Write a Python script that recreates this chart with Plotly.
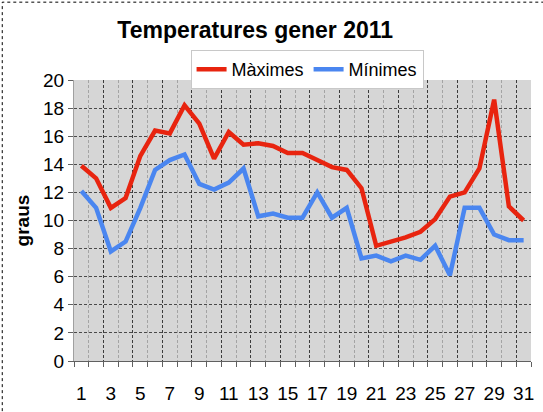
import plotly.graph_objects as go

# dies del mes
dies = list(range(1, 32))
# temperatures maximes i minimes (graus)
maximes = [13.9, 13.0, 10.9, 11.6, 14.6, 16.4, 16.2, 18.2, 16.9, 14.4,
           16.3, 15.4, 15.5, 15.3, 14.8, 14.8, 14.3, 13.8, 13.6, 12.3,
           8.2, 8.5, 8.8, 9.2, 10.1, 11.7, 12.0, 13.7, 18.6, 11.0, 10.0]
minimes = [12.1, 10.9, 7.8, 8.5, 10.9, 13.6, 14.3, 14.7, 12.6, 12.2,
           12.7, 13.7, 10.3, 10.5, 10.2, 10.2, 12.0, 10.2, 10.9, 7.3,
           7.5, 7.1, 7.5, 7.2, 8.2, 6.1, 10.9, 10.9, 9.0, 8.6, 8.6]
etiquetes_x = list(range(1, 32, 2))

fig = go.Figure()
fig.add_trace(go.Scatter(x=dies, y=maximes, mode='lines', name='Màximes',
                         line=dict(color='#e8240f', width=4.5)))
fig.add_trace(go.Scatter(x=dies, y=minimes, mode='lines', name='Mínimes',
                         line=dict(color='#4a86f0', width=4.5)))
# eix auxiliar per les linies de graella principals (cada 2 dies)
fig.add_trace(go.Scatter(x=[0.5], y=[None], xaxis='x2', showlegend=False,
                         hoverinfo='skip'))

fig.update_layout(
    width=543, height=412,
    margin=dict(l=74, r=12, t=80, b=51),
    paper_bgcolor='white',
    plot_bgcolor='#d6d6d6',
    font=dict(family='Liberation Sans, Arial', color='black'),
    title=dict(text='<b>Temperatures gener 2011</b>', x=0.47, xanchor='center',
               y=0.927, yanchor='middle', font=dict(size=23)),
    legend=dict(orientation='h', x=0.51, xanchor='center', y=1.107, yanchor='top',
                bgcolor='white', bordercolor='#c8c8c8', borderwidth=1,
                font=dict(size=18), itemwidth=30, tracegroupgap=0),
    xaxis=dict(range=[0.5, 31.5], tickmode='array', tickvals=etiquetes_x,
               ticks='', showgrid=False, zeroline=False, automargin=False,
               tickfont=dict(size=19), ticklabelstandoff=15,
               showline=True, linecolor='#606060', linewidth=1,
               minor=dict(tick0=0.5, dtick=1, ticks='outside', ticklen=5,
                          tickcolor='#606060', showgrid=True,
                          gridcolor='#a4a4a4', griddash='3px,2px', gridwidth=1)),
    xaxis2=dict(range=[0.5, 31.5], overlaying='x', tick0=0.5, dtick=2,
                showticklabels=False, ticks='', showgrid=True,
                gridcolor='#3c3c3c', griddash='3px,2px', gridwidth=1,
                zeroline=False),
    yaxis=dict(range=[0, 20], dtick=2, ticks='outside', ticklen=5,
               tickcolor='#606060', tickfont=dict(size=19), automargin=False,
               showgrid=True, gridcolor='#4a4a4a', griddash='3px,2px',
               zeroline=False, showline=True, linecolor='#a0a0a0',
               title=dict(text='<b>graus</b>', font=dict(size=19), standoff=8)),
    shapes=[dict(type='rect', xref='paper', yref='paper',
                 x0=-0.157, x1=1.1, y0=-0.3, y1=1.277,
                 line=dict(color='black', width=1, dash='dot'), layer='above')],
)

# sense el marge del body
fig.write_html('out.html', config={'displayModeBar': False},
               post_script="document.body.style.margin='0';")
